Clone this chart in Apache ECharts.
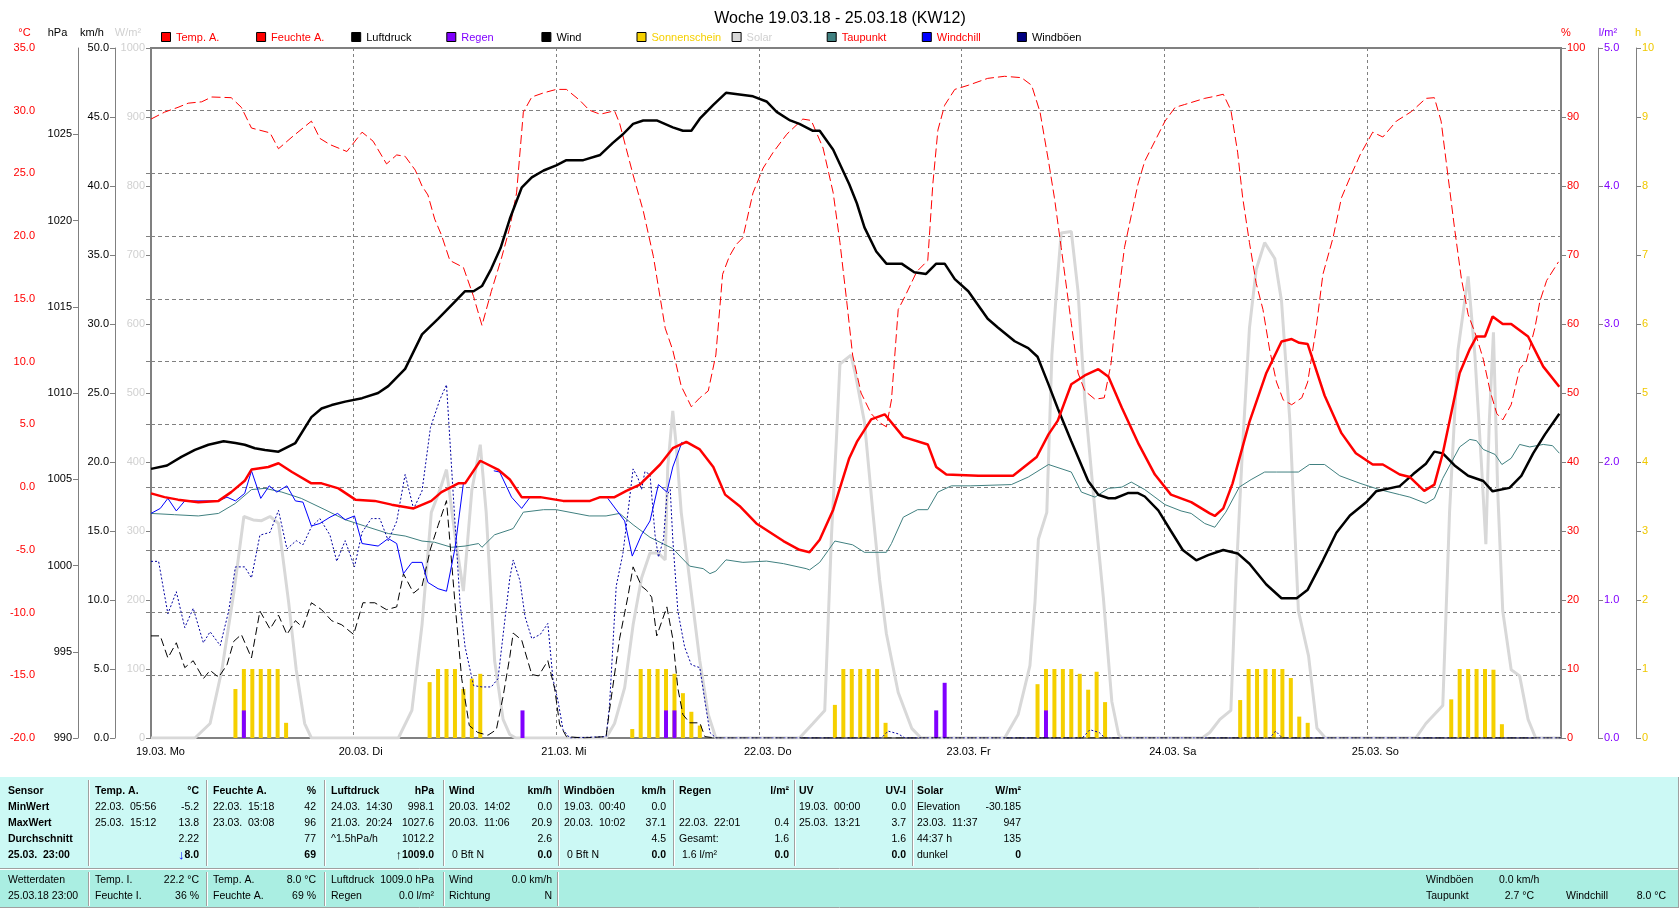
<!DOCTYPE html>
<html>
<head>
<meta charset="UTF-8">
<title>Woche 19.03.18 - 25.03.18 (KW12)</title>
<script src="https://cdn.jsdelivr.net/npm/echarts@6/dist/echarts.min.js"></script>
<style>
html, body { margin: 0; padding: 0; background: #fff; }
#main { width: 1680px; height: 909px; }
</style>
</head>
<body>
<div id="main"></div>
<script>
// x = Stunden seit 19.03.18 00:00
var dayLabels = ['19.03. Mo', '20.03. Di', '21.03. Mi', '22.03. Do', '23.03. Fr', '24.03. Sa', '25.03. So'];

var tempA = [[0,-0.5],[1.6,-0.8],[3.2,-1.0],[5.6,-1.2],[8,-1.1],[9.5,-0.4],[11.1,0.5],[11.9,1.4],[13.9,1.6],[15.1,1.9],[16.7,1.2],[19,0.3],[20.2,0.3],[22.2,-0.1],[24.2,-1.0],[26.5,-1.1],[28.5,-1.4],[31.1,-1.7],[33.2,-1.1],[34.4,-0.4],[36.4,0.3],[37.2,0.3],[39,2.1],[41.1,1.4],[42.5,0.6],[43.9,-0.8],[46.1,-0.8],[48.8,-1.1],[52,-1.1],[53.2,-0.8],[54.9,-0.8],[56.3,-0.3],[57.9,0.2],[60.3,1.8],[61.8,3.1],[63.4,3.6],[65,3.0],[66.6,1.6],[68,-0.6],[69.7,-1.5],[71.7,-2.9],[74.9,-4.3],[76.8,-5.0],[78,-5.2],[79.2,-4.2],[80.8,-1.8],[82.7,2.3],[83.6,3.6],[85.3,5.4],[86.9,5.8],[89.1,4.0],[92,3.4],[93,1.6],[94.2,1.0],[98,0.9],[102.1,0.9],[104.9,2.4],[106.3,4.2],[107.4,5.3],[109,8.2],[110.6,8.9],[112.2,9.4],[113.4,8.8],[115,6.3],[117,3.4],[118.9,1.0],[120.8,-0.6],[123.2,-1.2],[125.4,-2.1],[126,-2.3],[127,-1.7],[128.1,0.3],[130.1,5.2],[132.1,9.1],[133.9,11.6],[135.1,11.8],[136,11.5],[137,11.4],[139,7.3],[141,4.3],[142.7,2.7],[144.7,1.8],[145.9,1.8],[147.9,1.0],[149.1,0.8],[150.8,-0.3],[152,0.2],[153,2.7],[155,9.1],[156.2,11.0],[157,12.0],[158,12.0],[158.9,13.6],[160.1,13.0],[161.1,13.0],[163.1,12.0],[164.9,9.6],[166.8,8.0]];

var feuchteA = [[0,89.7],[1.6,90.7],[3.2,91.4],[4.4,92.0],[6,92.2],[7.2,92.9],[9.5,92.8],[10.7,91.4],[11.9,88.4],[14.1,87.7],[15.1,85.4],[16.7,87.1],[19,89.4],[20,86.9],[21.2,86.0],[23.2,85.0],[25,87.8],[26.3,86.5],[27.9,83.2],[29.1,84.5],[30.1,84.3],[31.3,82.3],[32.1,80.0],[32.8,78.7],[33.6,75.2],[34.4,72.9],[35.4,69.2],[37,68.2],[38.2,64.0],[39.2,59.8],[40.3,64.7],[41.5,69.5],[42.5,74.0],[43.3,79.0],[44.1,90.7],[45.1,92.9],[46.5,93.5],[48,94.0],[49.2,94.0],[50.8,92.4],[51.9,91.0],[53.2,90.4],[54.9,90.9],[55.5,89.1],[57.1,81.6],[58.3,76.4],[59.5,69.8],[60.9,59.4],[61.8,56.2],[62.8,51.0],[64,48.0],[65,49.3],[66,50.3],[66.9,55.5],[67.7,67.2],[68.5,69.8],[69.3,71.5],[70.1,72.5],[71.3,79.0],[72.5,82.6],[73.7,84.9],[75.3,87.5],[77.2,89.7],[78.2,89.5],[79.6,85.5],[80.8,79.0],[81.6,71.8],[82.4,63.3],[83.1,55.5],[84.1,50.0],[85.3,47.0],[86.3,45.7],[87.1,45.1],[87.7,49.0],[88.5,62.1],[89.3,64.0],[90.7,67.6],[92,69.2],[92.6,80.3],[93.2,88.1],[94,91.7],[95.2,94.0],[96.8,94.6],[99.1,95.6],[101.1,95.9],[103.1,95.7],[104.3,94.6],[105.3,90.7],[106.3,83.6],[107,78.3],[107.8,71.1],[109,60.1],[109.8,52.9],[110.6,50.3],[111.8,49.1],[112.9,49.3],[113.7,54.2],[114.5,63.3],[115.3,71.1],[116.1,75.7],[116.9,80.3],[117.7,83.6],[118.9,86.5],[120.1,89.4],[121.3,91.4],[122.4,91.8],[124.8,92.7],[126,93.0],[127,93.3],[127.9,91.0],[128.7,84.9],[129.3,78.3],[130.1,71.8],[130.9,65.9],[131.7,62.1],[132.5,56.2],[133.3,51.6],[134.1,49.0],[135.1,48.3],[136.3,49.3],[137,51.6],[138,59.4],[138.8,67.2],[140,72.5],[141,78.3],[142,81.2],[143.2,84.5],[144.7,87.8],[145.9,87.1],[147.5,89.4],[149.3,90.8],[151,92.7],[152,92.8],[152.8,89.4],[153.6,81.6],[154.4,73.8],[155.2,66.6],[156,61.4],[157,58.1],[157.8,54.9],[158.6,50.3],[159.4,47.0],[160.1,46.1],[161.1,48.3],[162.1,53.5],[162.9,54.6],[163.9,59.4],[164.5,63.3],[165.3,66.3],[166.7,69.0]];

var luftdruck = [[0,1005.6],[1.9,1005.8],[3.6,1006.3],[5.2,1006.7],[6.8,1007.0],[8.6,1007.2],[10,1007.1],[11.1,1007.0],[12.3,1006.8],[13.5,1006.7],[15.1,1006.6],[17.1,1007.1],[19,1008.6],[20.2,1009.1],[21.4,1009.3],[23,1009.5],[25,1009.7],[26.9,1010.0],[28.1,1010.4],[30.1,1011.4],[32.1,1013.4],[34,1014.3],[36,1015.3],[37.2,1015.9],[38.2,1015.9],[39.2,1016.2],[40.3,1017.2],[41.4,1018.4],[42.5,1020.1],[43.9,1021.9],[45.1,1022.5],[46.5,1022.9],[48,1023.2],[49.2,1023.5],[51.2,1023.5],[53.2,1023.8],[54.7,1024.5],[55.9,1025.0],[57.1,1025.6],[58.3,1025.8],[59.9,1025.8],[61.8,1025.4],[63,1025.2],[64,1025.2],[65,1025.9],[66.6,1026.7],[68.1,1027.4],[69.7,1027.3],[71.3,1027.2],[72.9,1026.9],[74.1,1026.3],[75.7,1025.8],[76.8,1025.6],[78.4,1025.2],[79.2,1025.2],[80.8,1024.1],[82.7,1022.1],[83.6,1021.0],[84.5,1019.6],[85.9,1018.2],[87.1,1017.5],[88.9,1017.5],[90.4,1017.0],[91.8,1016.9],[93,1017.5],[94,1017.5],[95.2,1016.6],[96.8,1015.9],[99.1,1014.3],[100.3,1013.8],[102.3,1013.0],[103.9,1012.6],[105,1012.1],[106.3,1010.5],[107.4,1009.1],[109,1007.2],[111,1004.9],[112.2,1004.1],[113.4,1003.9],[114.2,1003.9],[115.7,1004.2],[116.9,1004.2],[117.7,1004.0],[119.3,1003.2],[120.8,1002.0],[122.2,1000.9],[123.8,1000.3],[125.2,1000.6],[127,1000.9],[128.7,1000.7],[130.1,1000.1],[132.1,998.9],[133.9,998.1],[135.7,998.1],[137,998.6],[138.8,1000.3],[140.4,1001.9],[142,1002.9],[144,1003.7],[145.1,1004.3],[147.9,1004.6],[149.5,1005.3],[151,1005.9],[152,1006.6],[153,1006.5],[154.4,1005.8],[156,1005.2],[157.8,1004.9],[158.9,1004.3],[160.9,1004.5],[162.3,1005.2],[163.7,1006.5],[165.1,1007.6],[166.8,1008.8]];

var taupunkt = [[0,-2.1],[2.8,-2.2],[5.6,-2.3],[8,-2.1],[10,-1.3],[11.9,-0.2],[13.5,-0.1],[15.5,-0.4],[17.8,-0.9],[20.6,-1.8],[23,-2.6],[25.3,-3.1],[28.1,-3.7],[30.1,-3.9],[32.1,-4.3],[33.6,-4.4],[35.6,-4.8],[37.2,-4.7],[38.8,-4.5],[39.2,-4.8],[40.7,-3.8],[42.5,-3.4],[42.9,-3.3],[44.1,-2.0],[46.5,-1.8],[48,-1.8],[51.9,-2.3],[53.9,-2.3],[55.5,-2.1],[57.1,-3.0],[59.1,-4.0],[61.8,-4.9],[63.8,-6.3],[65.4,-6.5],[66.2,-6.9],[66.9,-6.7],[68.1,-5.8],[70.1,-6.0],[72.9,-5.9],[74.9,-6.1],[77.6,-6.5],[78,-6.6],[79.2,-6.0],[81,-4.3],[83.1,-4.6],[84.5,-5.2],[87.1,-5.2],[87.7,-4.5],[89.1,-2.4],[90.8,-1.8],[92,-1.8],[93.2,-0.4],[94.8,0.1],[97.1,0.1],[101.9,0.2],[103.9,0.8],[106.3,1.8],[109,1.2],[110.2,-0.4],[111.8,-0.8],[113.4,-0.1],[115,0.0],[116.1,0.4],[117.7,-0.2],[120.1,-1.4],[122,-1.9],[123.2,-2.1],[124.8,-2.9],[126,-3.2],[127.3,-2.0],[128.9,0.0],[130.3,0.6],[131.9,1.2],[133.3,1.2],[135.9,1.2],[137.2,1.8],[139,1.8],[140.8,0.9],[143.2,0.3],[145.5,-0.2],[147.9,-0.6],[149.1,-0.8],[151,-1.3],[152,-0.9],[153,0.7],[155,3.2],[156.2,3.8],[157,3.7],[157.8,3.0],[159.2,2.6],[160,1.8],[161.1,2.3],[162.1,3.4],[163.3,3.2],[164.9,3.4],[166,3.3],[166.8,2.7]];

// nur sichtbare Abschnitte, sonst unter Temp. A.
var windchill = [[0,-2.1],[1.1,-1.7],[2,-0.9],[3,-1.9],[4,-1.1],[5,-1.1],[8,-1.1],[9,-0.8],[10,-1.1],[11.1,-0.5],[11.9,1.3],[13,-0.9],[14,0.1],[14.9,-0.4],[16.1,0.1],[17.1,-1.1],[18,-1.2],[19,-3.1],[20,-2.9],[21.2,-2.4],[22.1,-2.1],[23,-2.6],[24.1,-2.3],[25,-4.5],[26.9,-4.7],[28.1,-4.1],[29.1,-4.5],[29.9,-6.9],[30.9,-6.0],[32.1,-6.0],[32.8,-7.6],[34,-8.1],[35,-8.3],[36,-4.9],[37,0.3],[39,'-'],[40.6,1.3],[41.3,1.2],[42.7,-0.8],[43.9,-1.7],[44.9,-0.8],[50,'-'],[54.1,-0.9],[56.1,-2.7],[57,-5.5],[58.1,-3.8],[59.1,-2.7],[60.1,0.2],[61.1,-0.4],[61.8,1.6],[62.9,3.6]];

var wind = [[0,7.4],[1.1,7.4],[2,5.8],[3,6.9],[4,5.1],[5,5.6],[6.2,4.3],[7,4.9],[8,4.4],[9,5.3],[9.8,7.0],[10.7,7.5],[11.9,5.8],[12.9,9.2],[14.1,7.9],[15.1,8.9],[16.1,7.5],[17.1,8.5],[18,8.0],[19,9.8],[20.2,9.3],[21.4,8.5],[22.6,8.2],[24,7.5],[25.1,9.8],[26.5,9.8],[27.9,9.3],[29.1,9.5],[29.9,11.9],[31.1,10.5],[32.1,11.0],[33.1,13.7],[34,15.4],[35,17.2],[36,9.8],[36.8,4.3],[37.7,0.9],[38.7,0.4],[39.9,0.2],[40.9,0.6],[41.7,3.0],[42.5,5.9],[42.9,7.6],[43.9,7.1],[45.1,4.6],[45.9,4.5],[47,5.6],[47.8,3.6],[48.4,1.0],[49.2,0.1],[51.2,0],[53.9,0.1],[54.3,2.0],[55.5,7.2],[56.5,10.3],[57.1,12.4],[58.1,11.0],[58.7,10.7],[59.3,10.2],[59.9,7.4],[61.1,9.5],[61.8,7.2],[62.4,3.6],[63,1.7],[63.8,1.1],[65,1.1],[65.6,0.1],[66.9,0],[167,0]];

var windboeen = [[0,12.8],[0.9,12.8],[2,9.0],[3,10.6],[4,8.0],[5,9.4],[6.2,6.9],[7,7.7],[8.2,6.7],[9.2,9.2],[10,12.4],[11.1,12.4],[11.9,11.6],[12.9,14.7],[14.1,14.9],[15.1,16.5],[16.1,13.7],[17.2,14.3],[18,14.0],[19,15.3],[20,15.9],[21.2,14.7],[22,12.8],[23,14.3],[24.1,12.4],[25,14.9],[26.1,15.9],[27.1,15.9],[28.1,14.3],[29.1,15.7],[30.1,19.1],[31.1,16.6],[32.1,17.9],[33.1,22.5],[34.2,24.5],[35,25.6],[35.8,17.6],[36.6,9.8],[37.2,6.6],[38.2,3.8],[39.2,3.7],[40.3,3.7],[41.1,4.3],[41.9,8.5],[42.5,11.6],[42.9,12.9],[43.7,11.4],[44.3,8.8],[45.1,7.2],[46.1,7.5],[47,8.3],[47.6,4.3],[48.2,2.7],[48.8,0.6],[49.6,0],[53.9,0.1],[54.3,2.3],[55.1,11.0],[55.9,13.4],[56.5,16.4],[57.1,19.5],[57.7,18.8],[58.1,18.0],[58.5,19.3],[59.1,19.1],[59.7,14.7],[60.1,13.1],[60.7,14.4],[61.1,17.6],[61.5,18.0],[61.8,14.4],[62.4,9.2],[63.2,6.6],[64,5.3],[65,5.1],[65.6,2.7],[66.2,0.4],[66.9,0],[86.5,0],[87.3,0.5],[88.5,0.3],[89.3,0],[110.3,0],[111.2,0.6],[112.3,0.4],[113,0],[132.5,0],[133.2,0.5],[134,0],[167,0]];

var solar = [[0,0],[5.2,0],[7,21],[8.4,99],[9.8,210],[11,321],[12.1,316],[13.1,315],[14.1,321],[15.1,311],[16.3,197],[17.2,99],[18.2,21],[19,0],[29.3,0],[30.9,40],[32.1,164],[33.2,327],[34.2,359],[35,389],[36,294],[37,213],[38,359],[39,425],[39.7,327],[40.7,112],[41.7,27],[42.5,5],[43.2,0],[53.9,0],[54.9,21],[56.1,73],[57.1,164],[58.1,232],[59.1,268],[60.1,268],[60.9,258],[61.2,392],[61.8,474],[62.2,425],[62.8,327],[63.8,229],[65,112],[66,34],[66.9,0],[76.8,0],[78.4,21],[79.8,40],[80.6,294],[81.2,438],[81.6,542],[82.9,555],[83.4,529],[84.5,458],[85.5,327],[86.3,229],[87.1,151],[88.5,66],[90.1,14],[91.2,0],[101.1,0],[102.7,34],[104.1,105],[104.7,197],[105.1,288],[106.1,327],[106.7,555],[107.2,640],[107.8,732],[109,734],[109.8,647],[110.6,490],[111.8,330],[112.8,203],[113.8,53],[114.6,5],[115,0],[124.5,0],[125.4,8],[126.6,27],[127.9,40],[128.5,229],[129.3,425],[130.1,594],[130.9,679],[131.9,718],[133.1,695],[133.9,633],[134.9,457],[135.9,184],[137.1,119],[138.1,14],[139.1,0],[149.8,0],[151,21],[153,47],[153.8,327],[154.8,562],[156,669],[156.8,555],[157.6,392],[158.1,281],[158.5,457],[159,588],[159.5,359],[160.1,184],[161.1,99],[162.1,90],[163.1,27],[164,0],[167,0]];

var sonnenschein = [[10,0.71],[11,1],[12,1],[13,1],[14,1],[15,1],[16,0.22],[33,0.81],[34,1],[35,1],[36,1],[37,0.71],[38,0.86],[39,0.93],[57,0.13],[58,1],[59,1],[60,1],[61,1],[62,0.93],[63,0.65],[64,0.38],[65,0.18],[81,0.48],[82,1],[83,1],[84,1],[85,1],[86,1],[87,0.22],[105,0.78],[106,1],[107,1],[108,1],[109,1],[110,0.93],[111,0.7],[112,0.96],[113,0.52],[129,0.55],[130,1],[131,1],[132,1],[133,1],[134,1],[135,0.87],[136,0.31],[137,0.22],[154,0.56],[155,1],[156,1],[157,1],[158,1],[159,0.99],[160,0.2]];

var regen = [[11,0.2],[44,0.2],[61,0.2],[62,0.2],[93,0.2],[94,0.4],[106,0.2]];

// Legende: Name, Farbe Kästchen, Farbe Text
var legendItems = [
  ['Temp. A.', '#ff0000', '#ff0000'], ['Feuchte A.', '#ff0000', '#ff0000'],
  ['Luftdruck', '#000000', '#000000'], ['Regen', '#8000ff', '#8000ff'],
  ['Wind', '#000000', '#000000'], ['Sonnenschein', '#f5d000', '#f5d000'],
  ['Solar', '#d8d8d8', '#d0d0d0'], ['Taupunkt', '#408080', '#ff0000'],
  ['Windchill', '#0000ff', '#ff0000'], ['Windböen', '#000080', '#000000']
];

// Tabelle unter dem Diagramm
var tableUpper = [
  { l: 8, head: ['Sensor', ''], left: ['MinWert', 'MaxWert', 'Durchschnitt', '25.03.  23:00'], right: [], boldLeft: true },
  { l: 95, r: 199, head: ['Temp. A.', '°C'], left: ['22.03.  05:56', '25.03.  15:12', '', ''], right: ['-5.2', '13.8', '2.22', '8.0'], arrow: ['↓', '#0000ff'] },
  { l: 213, r: 316, head: ['Feuchte A.', '%'], left: ['22.03.  15:18', '23.03.  03:08', '', ''], right: ['42', '96', '77', '69'] },
  { l: 331, r: 434, head: ['Luftdruck', 'hPa'], left: ['24.03.  14:30', '21.03.  20:24', '^1.5hPa/h', ''], right: ['998.1', '1027.6', '1012.2', '1009.0'], arrow: ['↑', '#000000'] },
  { l: 449, r: 552, head: ['Wind', 'km/h'], left: ['20.03.  14:02', '20.03.  11:06', '', ' 0 Bft N'], right: ['0.0', '20.9', '2.6', '0.0'] },
  { l: 564, r: 666, head: ['Windböen', 'km/h'], left: ['19.03.  00:40', '20.03.  10:02', '', ' 0 Bft N'], right: ['0.0', '37.1', '4.5', '0.0'] },
  { l: 679, r: 789, head: ['Regen', 'l/m²'], left: ['', '22.03.  22:01', 'Gesamt:', ' 1.6 l/m²'], right: ['', '0.4', '1.6', '0.0'] },
  { l: 799, r: 906, head: ['UV', 'UV-I'], left: ['19.03.  00:00', '25.03.  13:21', '', ''], right: ['0.0', '3.7', '1.6', '0.0'] },
  { l: 917, r: 1021, head: ['Solar', 'W/m²'], left: ['Elevation', '23.03.  11:37', '44:37 h', 'dunkel'], right: ['-30.185', '947', '135', '0'] }
];
var tableLower = [
  { l: 8, left: ['Wetterdaten', '25.03.18 23:00'], right: [] },
  { l: 95, r: 199, left: ['Temp. I.', 'Feuchte I.'], right: ['22.2 °C', '36 %'] },
  { l: 213, r: 316, left: ['Temp. A.', 'Feuchte A.'], right: ['8.0 °C', '69 %'] },
  { l: 331, r: 434, left: ['Luftdruck', 'Regen'], right: ['1009.0 hPa', '0.0 l/m²'] },
  { l: 449, r: 552, left: ['Wind', 'Richtung'], right: ['0.0 km/h', 'N'] }
];
var lowerRight = [
  [1426, 880, 'Windböen', 'left'], [1499, 880, '0.0 km/h', 'left'],
  [1426, 896, 'Taupunkt', 'left'], [1534, 896, '2.7 °C', 'right'],
  [1566, 896, 'Windchill', 'left'], [1666, 896, '8.0 °C', 'right']
];
var sepUpper = [88, 206, 324, 443, 558, 673, 794, 912];
var sepLower = [88, 206, 324, 443, 557];

var FONT = '"Liberation Sans", Arial, sans-serif';
var TSIZE = 10.5;
var chart = echarts.init(document.getElementById('main'));

function yAxis(pos, offset, min, max, interval, color, digits, extra) {
  var ax = {
    type: 'value', position: pos, offset: offset, min: min, max: max, interval: interval,
    axisLine: { show: true, lineStyle: { color: '#808080', width: 1 } },
    axisTick: { show: true, length: 5, lineStyle: { color: '#808080' } },
    axisLabel: {
      color: color, fontSize: 11, fontFamily: FONT, margin: 6,
      formatter: function (v) { return v.toFixed(digits); }
    },
    splitLine: { show: false }
  };
  if (extra) { for (var k in extra) ax[k] = extra[k]; }
  return ax;
}

function lineSeries(name, yIdx, data, color, width, type, z) {
  return {
    name: name, type: 'line', yAxisIndex: yIdx, data: data, symbol: 'none',
    lineStyle: { color: color, width: width, type: type || 'solid' },
    itemStyle: { color: color }, z: z, silent: true, connectNulls: false
  };
}

var option = {
  animation: false,
  backgroundColor: '#ffffff',
  title: {
    text: 'Woche 19.03.18 - 25.03.18 (KW12)', left: 'center', top: 6,
    textStyle: { fontSize: 16, fontWeight: 'normal', color: '#000', fontFamily: FONT }
  },
  grid: { left: 151, right: 119, top: 48, bottom: 171, show: true, borderColor: '#808080', borderWidth: 2, backgroundColor: 'transparent', outerBoundsMode: 'none' },
  xAxis: {
    type: 'value', min: 0, max: 167, interval: 24,
    axisLine: { show: false }, axisTick: { show: false }, axisLabel: { show: false },
    splitLine: { show: true, lineStyle: { color: '#808080', type: [3, 3], width: 1 } }
  },
  yAxis: [
    yAxis('left', 110, -20, 35, 5, '#ff0000', 1, { splitLine: { show: true, lineStyle: { color: '#808080', type: [4, 3], width: 1 } } }),
    yAxis('left', 73, 990, 1030, 5, '#000000', 0, {
      axisLabel: { color: '#000', fontSize: 11, fontFamily: FONT, margin: 6, showMaxLabel: false, formatter: function (v) { return String(Math.round(v)); } }
    }),
    yAxis('left', 36, 0, 50, 5, '#000000', 1),
    yAxis('left', 0, 0, 1000, 100, '#d0d0d0', 0, { axisLine: { show: false } }),
    yAxis('right', 0, 0, 100, 10, '#ff0000', 0, { axisLine: { show: false } }),
    yAxis('right', 37, 0, 5, 1, '#8000ff', 1),
    yAxis('right', 75, 0, 10, 1, '#f0c800', 0)
  ],
  series: [
    lineSeries('Solar', 3, solar, '#d8d8d8', 3, 'solid', 1),
    { name: 'Sonnenschein', type: 'bar', yAxisIndex: 6, data: sonnenschein, barWidth: 4, barGap: '-100%', itemStyle: { color: '#f5d000' }, z: 2, silent: true },
    { name: 'Regen', type: 'bar', yAxisIndex: 5, data: regen, barWidth: 4, barGap: '-100%', itemStyle: { color: '#8000ff' }, z: 3, silent: true },
    lineSeries('Taupunkt', 0, taupunkt, '#408080', 1, 'solid', 4),
    lineSeries('Feuchte A.', 4, feuchteA, '#ff0000', 1, [9, 4], 5),
    lineSeries('Windböen', 2, windboeen, '#0000a0', 1, [2, 2], 6),
    lineSeries('Wind', 2, wind, '#000000', 1, [8, 4], 7),
    lineSeries('Windchill', 0, windchill, '#0000ff', 1, 'solid', 8),
    lineSeries('Luftdruck', 1, luftdruck, '#000000', 2.5, 'solid', 9),
    lineSeries('Temp. A.', 0, tempA, '#ff0000', 2.5, 'solid', 10)
  ]
};
chart.setOption(option);

function txt(x, y, s, o) {
  o = o || {};
  var font = (o.bold ? 'bold ' : '') + (o.size || TSIZE) + 'px ' + FONT;
  var st = {
    text: s, x: 0, y: 0, fill: o.color || '#000', font: font,
    align: o.align || 'left', textAlign: o.align || 'left',
    verticalAlign: 'middle', textVerticalAlign: 'middle'
  };
  if (o.rich) st.rich = o.rich;
  return { type: 'text', x: x, y: y, silent: true, z: 100, style: st };
}
function vline(x, y1, y2, c) {
  return { type: 'line', silent: true, z: 90, shape: { x1: x, y1: y1, x2: x, y2: y2 }, style: { stroke: c, lineWidth: 1 } };
}
function hline(y, x1, x2, c) {
  return { type: 'line', silent: true, z: 90, shape: { x1: x1, y1: y, x2: x2, y2: y }, style: { stroke: c, lineWidth: 1 } };
}

var g = [];
// Legende
legendItems.forEach(function (it, i) {
  var x = 161 + i * 95.1;
  g.push({ type: 'rect', silent: true, z: 100, shape: { x: x + 0.5, y: 32.5, width: 9, height: 9 }, style: { fill: it[1], stroke: '#000', lineWidth: 1 } });
  g.push(txt(x + 15, 37.5, it[0], { color: it[2], size: 11 }));
});
// Einheiten über den Achsen
[['°C', 24.5, '#ff0000'], ['hPa', 57.5, '#000'], ['km/h', 92, '#000'], ['W/m²', 128, '#d0d0d0'],
 ['%', 1566, '#ff0000'], ['l/m²', 1608, '#8000ff'], ['h', 1638, '#f0c800']].forEach(function (u) {
  g.push(txt(u[1], 33, u[0], { color: u[2], align: 'center', size: 11 }));
});
// Tagesbeschriftung
dayLabels.forEach(function (s, i) {
  var px = chart.convertToPixel({ xAxisIndex: 0 }, i * 24);
  g.push(txt(px - 15, 752, s, { size: 11 }));
});

// Tabellenflächen
g.push({ type: 'rect', silent: true, z: 80, shape: { x: 0, y: 777, width: 1678, height: 91 }, style: { fill: '#ccf9f5' } });
g.push({ type: 'rect', silent: true, z: 80, shape: { x: 0, y: 870, width: 1678, height: 37 }, style: { fill: '#aaeee2' } });
g.push(hline(868.5, 0, 1679, '#a0a0a0'));
g.push(hline(869.5, 0, 1679, '#ffffff'));
g.push(hline(907.5, 0, 1679, '#a0a0a0'));
g.push(vline(1678.5, 777, 908, '#a0a0a0'));
sepUpper.forEach(function (x) { g.push(vline(x + 0.5, 780, 866, '#a0a0a0')); g.push(vline(x + 1.5, 780, 866, '#ffffff')); });
sepLower.forEach(function (x) { g.push(vline(x + 0.5, 872, 906, '#a0a0a0')); g.push(vline(x + 1.5, 872, 906, '#ffffff')); });

var rowsU = [791, 807, 823, 839, 855];
tableUpper.forEach(function (c) {
  g.push(txt(c.l, rowsU[0], c.head[0], { bold: true }));
  if (c.r) g.push(txt(c.r, rowsU[0], c.head[1], { bold: true, align: 'right' }));
  c.left.forEach(function (s, i) { if (s) g.push(txt(c.l, rowsU[i + 1], s, { bold: !!c.boldLeft })); });
  c.right.forEach(function (s, i) {
    if (!s) return;
    var last = i === 3;
    if (last && c.arrow) {
      g.push(txt(c.r, rowsU[i + 1], '{a|' + c.arrow[0] + '}' + s, {
        bold: true, align: 'right',
        rich: { a: { fill: c.arrow[1], color: c.arrow[1], font: 'bold 13px ' + FONT } }
      }));
    } else {
      g.push(txt(c.r, rowsU[i + 1], s, { bold: last, align: 'right' }));
    }
  });
});
var rowsL = [880, 896];
tableLower.forEach(function (c) {
  c.left.forEach(function (s, i) { g.push(txt(c.l, rowsL[i], s)); });
  c.right.forEach(function (s, i) { g.push(txt(c.r, rowsL[i], s, { align: 'right' })); });
});
lowerRight.forEach(function (t) { g.push(txt(t[0], t[1], t[2], { align: t[3] })); });

chart.setOption({ graphic: g });
</script>
</body>
</html>
